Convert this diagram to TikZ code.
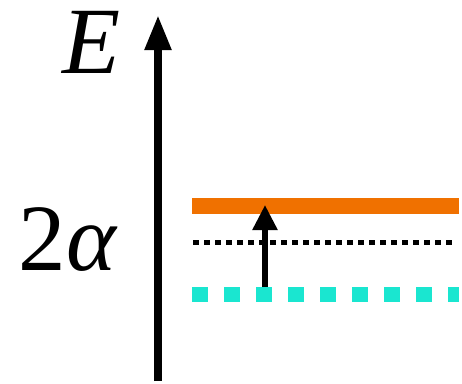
\documentclass[tikz,border=0pt]{standalone}
\usepackage{fontspec}
\setmainfont{Liberation Serif}
\usepackage{xcolor}
\usetikzlibrary{arrows.meta}
\definecolor{levelUp}{HTML}{F07100}
\definecolor{levelLo}{HTML}{1AE6D0}
\newcommand{\lblAxis}{\textit{E}}
\newcommand{\lblGap}{2\textit{α}}

\begin{document}
\begin{tikzpicture}[
  x=1pt, y=-1pt,
  big/.style   ={font=\fontsize{95}{95}\selectfont, inner sep=0pt, anchor=base},
  axis/.style  ={-{Triangle[length=35pt, width=25pt]}, line width=8pt},
  jump/.style  ={-{Triangle[length=25pt, width=24pt]}, line width=5.5pt},
  upper/.style ={draw=levelUp, line width=16pt},
  mid/.style   ={draw=black, line width=5pt, dash pattern=on 6pt off 5pt},
  lower/.style ={draw=levelLo, line width=15pt, dash pattern=on 16pt off 16pt},
]
\useasboundingbox (0,0) rectangle (462,383);

% ---- energy axis -----------------------------------------------------------
\coordinate (axB) at (158,381);
\coordinate (axT) at (158,15);
\draw[axis] (axB) -- (axT);
\node[big] (lblE) at (92,73) {\lblAxis};
\node[big] (lblA) at (68,270) {\lblGap};

% ---- levels ----------------------------------------------------------------
\coordinate (upL) at (192,205.5);  \coordinate (upR) at (459,205.5);
\coordinate (midL) at (193,242);   \coordinate (midR) at (456,242);
\coordinate (loL) at (192,294.5);  \coordinate (loR) at (459,294.5);
\draw[upper] (upL) -- (upR);
\draw[mid]   (midL) -- (midR);
\draw[lower] (loL) -- (loR);

% ---- excitation ------------------------------------------------------------
\coordinate (from) at (265,287);
\coordinate (to)   at (265,205);
\draw[jump] (from) -- (to);

\end{tikzpicture}
\end{document}
